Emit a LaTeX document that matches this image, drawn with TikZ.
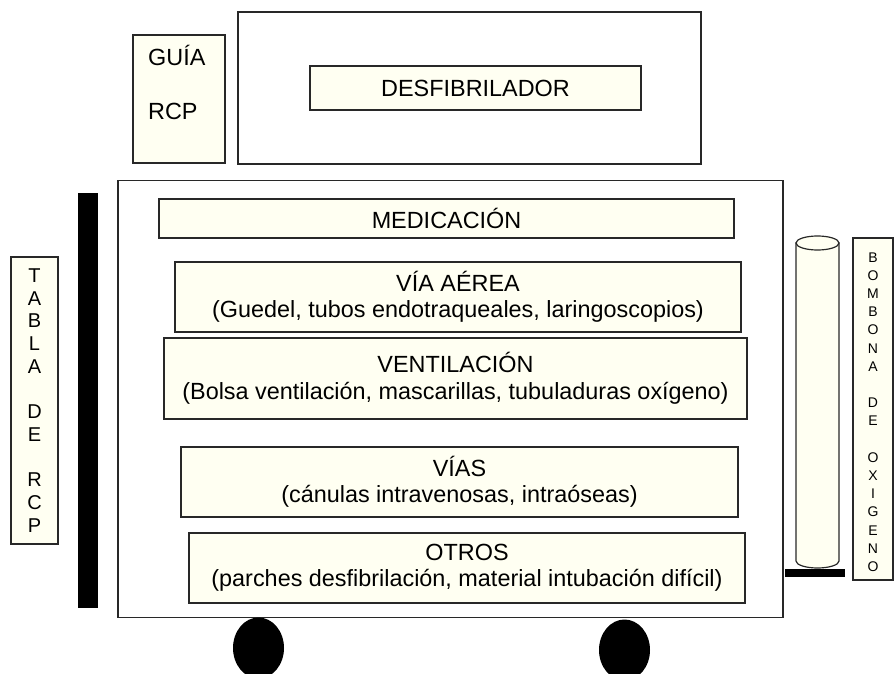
\documentclass[tikz,border=0pt]{standalone}
\usepackage{fontspec}
\setmainfont{Liberation Sans}
\definecolor{ivory}{RGB}{255,255,242}
\definecolor{edge}{RGB}{40,40,40}
\begin{document}
\begin{tikzpicture}[x=1pt,y=-1pt,
  frame/.style={draw=edge, line width=1.2pt, fill=white, inner sep=0pt},
  item/.style={draw=edge, line width=1.2pt, fill=ivory, inner sep=0pt, align=center,
    font=\fontsize{23.4}{26.5}\selectfont},
  vlab/.style={draw=edge, line width=1.2pt, fill=ivory, inner sep=0pt, align=center},
  txt/.style={font=\fontsize{23.4}{26.5}\selectfont, inner sep=0pt}]
\useasboundingbox (0,0) rectangle (895,674);
% guide
\node[vlab, minimum width=92pt, minimum height=128pt] (guia) at (179,99) {};
\node[txt, anchor=base west] (guiat) at (148,66) {GUÍA};
\node[txt, anchor=base west] (rcpt) at (148,120) {RCP};
% defibrillator
\node[frame, minimum width=463pt, minimum height=152pt] (desfout) at (469.5,88) {};
\node[item, minimum width=331pt, minimum height=44pt] (desf) at (475.5,88) {DESFIBRILADOR};
% cart
\node[frame, minimum width=665pt, minimum height=437pt] (cart) at (450.5,399) {};
\node[item, minimum width=575pt, minimum height=39pt] (med) at (446.5,218.5) {MEDICACIÓN};
\node[item, minimum width=566pt, minimum height=70pt] (aerea) at (458,297) {VÍA AÉREA\\(Guedel, tubos endotraqueales, laringoscopios)};
\node[item, minimum width=583pt, minimum height=81pt] (vent) at (455.5,378.5) {VENTILACIÓN\\(Bolsa ventilación, mascarillas, tubuladuras oxígeno)};
\node[item, minimum width=557pt, minimum height=70pt] (vias) at (459.5,482) {VÍAS\\(cánulas intravenosas, intraóseas)};
\node[item, minimum width=556pt, minimum height=70pt] (otros) at (467,568) {OTROS\\(parches desfibrilación, material intubación difícil)};
% wheels
\begin{scope}
\clip (0,0) rectangle (895,674);
\fill[black] (258.5,648) ellipse[x radius=25.5, y radius=30.5];
\fill[black] (624.5,650) ellipse[x radius=25.5, y radius=30.5];
\end{scope}
% left bar and table
\fill[black] (78,193) rectangle (98,608);
\node[vlab, minimum width=47pt, minimum height=287pt, font=\fontsize{20}{22.7}\selectfont] (tabla) at (34.5,400.5)
  {T\\A\\B\\L\\A\\\mbox{}\\D\\E\\\mbox{}\\R\\C\\P};
% oxygen cylinder
\filldraw[draw=edge, line width=1.2pt, fill=ivory] (796,243) -- (796,561)
  arc[start angle=180, end angle=0, x radius=21.5, y radius=7] -- (839,243) -- cycle;
\filldraw[draw=edge, line width=1.2pt, fill=ivory] (817.5,243) ellipse[x radius=21.5, y radius=7];
\fill[black] (785,569) rectangle (845,577);
\node[vlab, minimum width=40pt, minimum height=342pt] (bombona) at (873,409) {};
\node[align=center, inner sep=0pt, font=\fontsize{14}{18.2}\selectfont] (bombonat) at (873,412)
  {B\\O\\M\\B\\O\\N\\A\\\mbox{}\\D\\E\\\mbox{}\\O\\X\\I\\G\\E\\N\\O};
\end{tikzpicture}
\end{document}
